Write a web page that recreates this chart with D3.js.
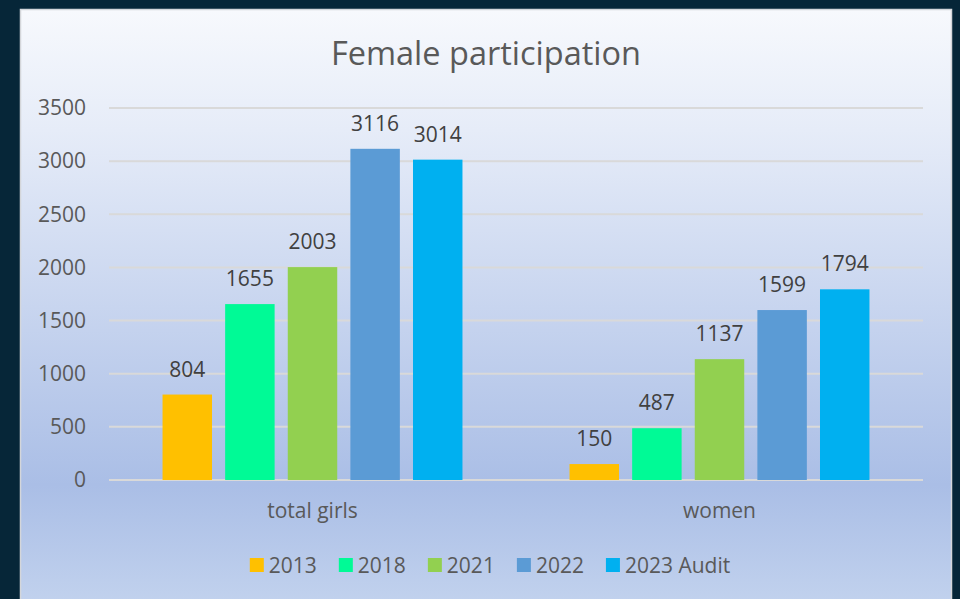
<!DOCTYPE html>
<html>
<head>
<meta charset="utf-8">
<script src="https://cdn.jsdelivr.net/npm/d3@7"></script>
<style>
  html, body { margin: 0; padding: 0; background: #062638; }
  svg { display: block; }
  text { font-family: "Open Sans", sans-serif; font-variant-ligatures: none; }
</style>
</head>
<body>
<svg id="chart" width="960" height="599"></svg>
<script>
var categories = ["total girls", "women"];
var series = ["2013", "2018", "2021", "2022", "2023 Audit"];
var girls_values = [804, 1655, 2003, 3116, 3014];
var women_values = [150, 487, 1137, 1599, 1794];
var y_ticks = [0, 500, 1000, 1500, 2000, 2500, 3000, 3500];
var colors = ["#FFC000", "#00FA96", "#92D050", "#5B9BD5", "#00B0F0"];

var values_by_cat = {"total girls": girls_values, "women": women_values};

var svg = d3.select("#chart");
var defs = svg.append("defs");
var grad = defs.append("linearGradient").attr("id", "bg").attr("x1", 0).attr("y1", 0).attr("x2", 0).attr("y2", 1);
grad.append("stop").attr("offset", "0%").attr("stop-color", "#f7f9fd");
grad.append("stop").attr("offset", "20%").attr("stop-color", "#e6ecf8");
grad.append("stop").attr("offset", "79%").attr("stop-color", "#aabee6");
grad.append("stop").attr("offset", "100%").attr("stop-color", "#c3d3ee");

// panel
svg.append("rect").attr("x", 20.5).attr("y", 9.5).attr("width", 931).attr("height", 602)
  .attr("fill", "url(#bg)").attr("stroke", "#d4d6da").attr("stroke-width", 1.5);

var x0 = d3.scaleBand().domain(categories).range([109, 923]).padding(0);
var x1 = d3.scaleBand().domain(series).range([0, x0.bandwidth()]).paddingInner(0.21).paddingOuter(0.855);
var y = d3.scaleLinear().domain([0, 3500]).range([480, 108]);

// gridlines
svg.append("g").selectAll("line").data(y_ticks).enter().append("line")
  .attr("x1", 109).attr("x2", 923)
  .attr("y1", function(d) { return y(d); }).attr("y2", function(d) { return y(d); })
  .attr("stroke", "#d9d9d9").attr("stroke-width", 2);

// y axis labels
var yAxis = d3.axisLeft(y).tickValues(y_ticks).tickFormat(d3.format("d")).tickSize(0).tickPadding(0);
var yg = svg.append("g").attr("transform", "translate(86,0)").call(yAxis);
yg.select(".domain").remove();
yg.selectAll("text").attr("fill", "#595959").style("font-size", "21px").style("font-family", "'Open Sans', sans-serif");

// bars
var groups = svg.append("g").selectAll("g").data(categories).enter().append("g")
  .attr("transform", function(c) { return "translate(" + x0(c) + ",0)"; });

groups.selectAll("rect").data(function(c) {
    return series.map(function(s, i) { return {s: s, v: values_by_cat[c][i], i: i}; });
  }).enter().append("rect")
  .attr("x", function(d) { return x1(d.s); })
  .attr("y", function(d) { return y(d.v); })
  .attr("width", x1.bandwidth())
  .attr("height", function(d) { return y(0) - y(d.v); })
  .attr("fill", function(d) { return colors[d.i]; });

groups.selectAll("text").data(function(c) {
    return series.map(function(s, i) { return {s: s, v: values_by_cat[c][i]}; });
  }).enter().append("text")
  .attr("x", function(d) { return x1(d.s) + x1.bandwidth() / 2; })
  .attr("y", function(d) { return y(d.v) - 18; })
  .attr("text-anchor", "middle").attr("fill", "#404040").style("font-size", "21px")
  .text(function(d) { return d.v; });

// category labels
var xAxis = d3.axisBottom(x0).tickSize(0).tickPadding(0);
var xg = svg.append("g").attr("transform", "translate(0,503)").call(xAxis);
xg.select(".domain").remove();
xg.selectAll("text").attr("fill", "#595959").style("font-size", "21px").style("font-family", "'Open Sans', sans-serif");

// title
svg.append("text").attr("x", 486).attr("y", 65).attr("text-anchor", "middle")
  .attr("fill", "#595959").style("font-size", "32.5px").text("Female participation");

// legend
var legend = svg.append("g").attr("transform", "translate(0,565)");
var items = legend.selectAll("g").data(series).enter().append("g");
items.append("rect").attr("width", 14).attr("height", 14).attr("y", -7)
  .attr("fill", function(d, i) { return colors[i]; });
items.append("text").attr("x", 19).attr("y", 8).attr("fill", "#595959").style("font-size", "21px")
  .text(function(d) { return d; });
var pos = 0, offsets = [];
items.each(function() {
  offsets.push(pos);
  pos += 19 + d3.select(this).select("text").node().getComputedTextLength() + 22;
});
var total = pos - 22;
items.attr("transform", function(d, i) { return "translate(" + (490 - total / 2 + offsets[i]) + ",0)"; });
</script>
</body>
</html>
